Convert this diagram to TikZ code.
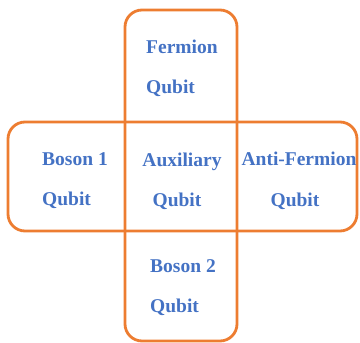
\documentclass[tikz,border=0pt]{standalone}
\usepackage{fontspec}
\setmainfont{Liberation Serif}
\usetikzlibrary{positioning}
\definecolor{qorange}{HTML}{ED7D31}
\definecolor{qblue}{HTML}{4472C4}

\begin{document}
\begin{tikzpicture}[
    x=1pt, y=-1pt,
    arm/.style={draw=qorange, line width=2.8pt, rounded corners=17pt},
    qlabel/.style={inner sep=0pt, text=qblue, font=\fontsize{19.5}{22}\selectfont\bfseries},
    qleft/.style={qlabel, anchor=base west},
    qmid/.style={qlabel, anchor=base}
]
\useasboundingbox (0,0) rectangle (360,343);

% Cross arms
\draw[arm] (125,10) rectangle (237,341);
\draw[arm] (8,122) rectangle (357,231);

% Top arm
\node[qleft] (fermion) at (146,53) {Fermion};
\node[qleft] (fermion-q) at (146,93) {Qubit};

% Left arm
\node[qleft] (boson1) at (42,165) {Boson 1};
\node[qleft] (boson1-q) at (42,205) {Qubit};

% Centre
\node[qmid] (aux) at (182,166) {Auxiliary};
\node[qmid] (aux-q) at (177,206) {Qubit};

% Right arm
\node[qmid] (antifermion) at (299,165) {Anti-Fermion};
\node[qmid] (antifermion-q) at (295,206) {Qubit};

% Bottom arm
\node[qleft] (boson2) at (150,272) {Boson 2};
\node[qleft] (boson2-q) at (150,312) {Qubit};

\end{tikzpicture}
\end{document}
